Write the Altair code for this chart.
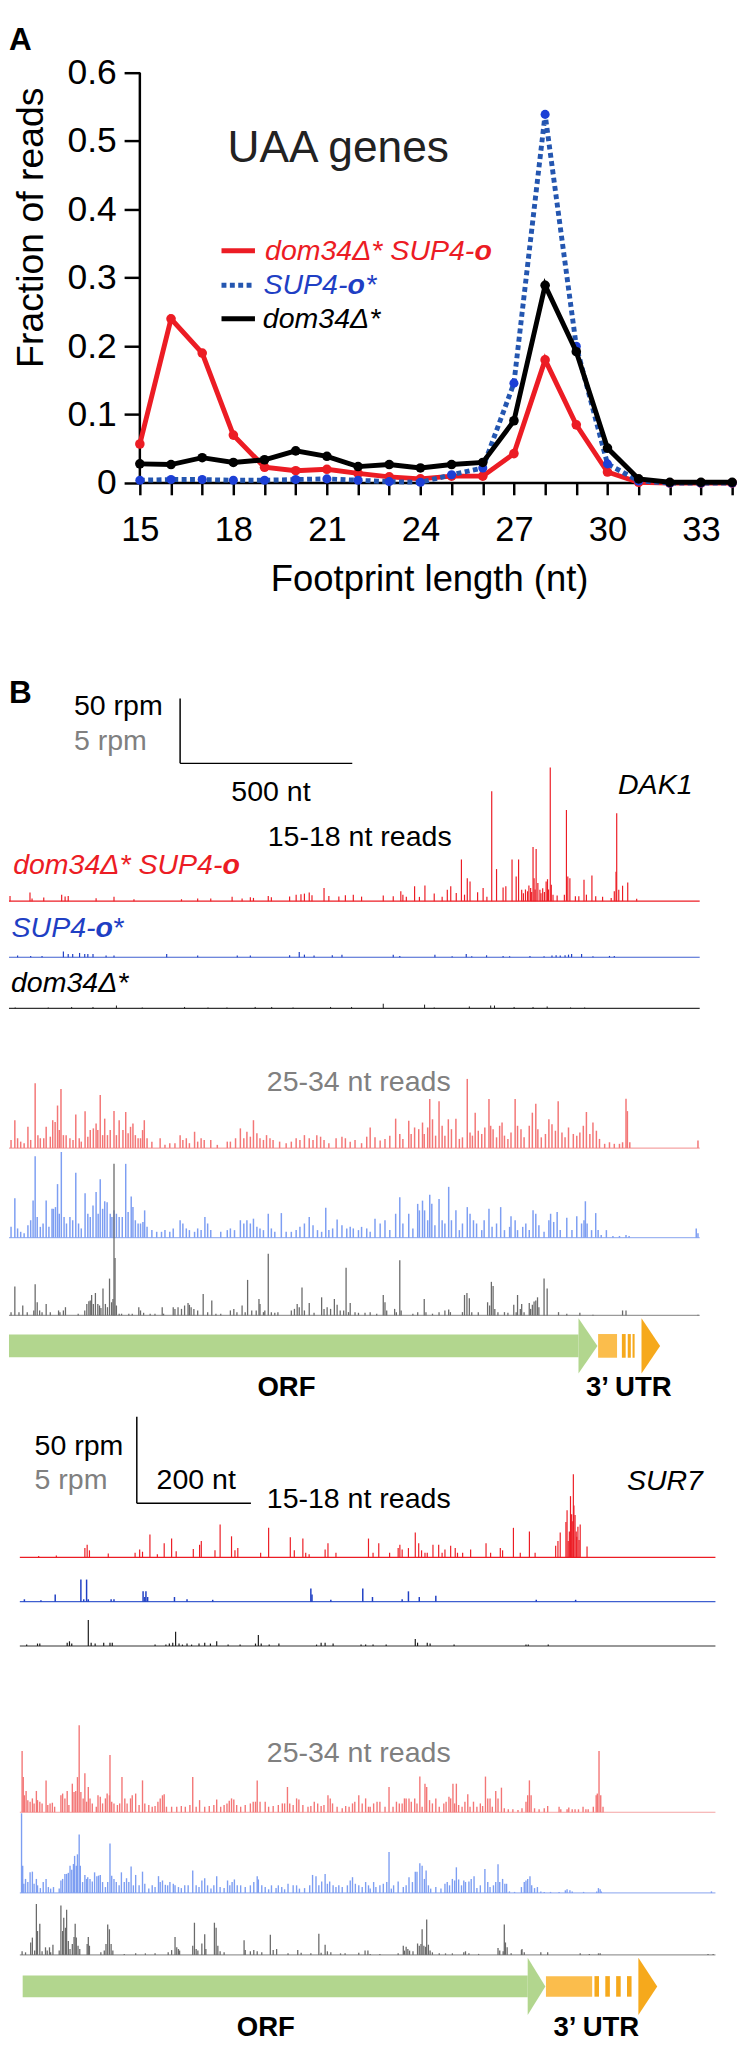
import altair as alt
import pandas as pd

FONT = "Liberation Sans"

# ---------------- Panel A data ----------------
LENGTHS = list(range(15, 35))
FRAC_DOM34_SUP4 = [0.057, 0.240, 0.190, 0.070, 0.023, 0.018, 0.020, 0.014, 0.009, 0.006,
                   0.010, 0.010, 0.043, 0.180, 0.085, 0.016, 0.001, 0.0, 0.0, 0.0]
FRAC_SUP4 = [0.004, 0.005, 0.005, 0.004, 0.004, 0.005, 0.006, 0.004, 0.002, 0.001,
             0.012, 0.022, 0.146, 0.539, 0.200, 0.028, 0.003, 0.0, 0.0, 0.0]
FRAC_DOM34 = [0.028, 0.027, 0.037, 0.030, 0.034, 0.047, 0.039, 0.024, 0.027, 0.022,
              0.027, 0.030, 0.091, 0.289, 0.192, 0.051, 0.006, 0.001, 0.001, 0.001]
Y_TICKS = [0, 0.1, 0.2, 0.3, 0.4, 0.5, 0.6]

# ---------------- Panel B data: (position nt, rpm) ----------------
DAK1_RED_15_18 = [
    (3, 4.0), (61, 6.6), (67, 2.0), (101, 2.8), (153, 5.0), (163, 3.5), (172, 4.0), (253, 2.3), (305, 3.3),
    (363, 1.5), (501, 1.5), (548, 2.0), (586, 2.0), (648, 3.3), (677, 2.0), (701, 3.0), (710, 2.5), (753, 4.0),
    (762, 3.0), (815, 3.5), (834, 5.0), (848, 5.3), (858, 5.8), (872, 6.6), (880, 4.5), (915, 10.1), (929, 4.0),
    (958, 3.5), (977, 4.5), (1000, 5.0), (1024, 3.5), (1087, 4.3), (1116, 3.8), (1138, 7.6), (1144, 5.0),
    (1154, 3.3), (1178, 11.4), (1192, 3.3), (1208, 12.1), (1235, 5.8), (1258, 3.3), (1273, 8.8), (1283, 11.4),
    (1299, 6.3), (1314, 32.1), (1323, 5.0), (1331, 17.7), (1339, 15.2), (1361, 6.8), (1377, 10.1), (1388, 3.3),
    (1402, 84.6), (1416, 24.7), (1435, 10.6), (1443, 11.4), (1461, 32.1), (1473, 18.9), (1480, 32.1),
    (1489, 8.8), (1494, 6.0), (1500, 9.0), (1506, 7.6), (1510, 12.0), (1515, 10.1), (1518, 7.0), (1522, 41.7),
    (1525, 17.7), (1528, 9.0), (1531, 40.1), (1536, 13.9), (1542, 8.8), (1545, 6.0), (1550, 10.0), (1555, 7.0),
    (1560, 15.2), (1564, 16.9), (1567, 9.0), (1572, 103.0), (1575, 12.6), (1580, 5.0), (1592, 4.3), (1613, 5.0),
    (1619, 70.2), (1623, 18.9), (1629, 17.7), (1645, 3.8), (1655, 3.8), (1670, 16.4), (1677, 5.0), (1693, 19.7),
    (1704, 3.8), (1724, 3.3), (1749, 2.5), (1758, 7.6), (1763, 22.7), (1765, 67.7), (1771, 8.8), (1782, 11.9),
    (1797, 14.4), (1823, 1.8)]
DAK1_BLUE_15_18 = [
    (25, 1.3), (63, 1.0), (96, 1.0), (158, 4.5), (172, 2.5), (185, 2.5), (205, 3.3), (220, 2.5), (229, 2.5),
    (244, 2.5), (282, 1.3), (305, 1.3), (458, 2.5), (548, 1.3), (663, 1.3), (701, 1.3), (815, 1.5), (843, 4.0),
    (858, 2.0), (886, 1.3), (939, 1.5), (967, 2.0), (1116, 2.0), (1135, 1.0), (1237, 2.0), (1287, 0.8),
    (1328, 2.5), (1344, 0.8), (1387, 1.5), (1435, 1.0), (1454, 0.8), (1513, 1.0), (1554, 0.8), (1577, 1.3),
    (1589, 1.5), (1601, 1.3), (1615, 1.5), (1625, 2.0), (1634, 2.5), (1663, 2.5), (1696, 0.8), (1744, 1.0),
    (1758, 1.0)]
DAK1_BLACK_15_18 = [
    (18, 0.7), (114, 0.7), (182, 1.1), (244, 1.1), (312, 2.2), (387, 0.7), (510, 1.1), (578, 0.7), (633, 0.7),
    (715, 1.1), (763, 1.1), (825, 0.7), (934, 1.1), (995, 1.1), (1087, 3.6), (1207, 2.9), (1235, 0.7),
    (1337, 1.5), (1399, 2.2), (1410, 2.2), (1467, 1.1), (1522, 1.1), (1563, 1.5), (1631, 0.7), (1672, 0.7)]
DAK1_RED_25_34 = [
    (6, 0.63), (17, 2.15), (25, 0.76), (34, 0.5), (44, 0.38), (55, 1.64), (63, 0.63), (76, 5.0), (84, 1.0),
    (91, 0.76), (101, 0.76), (108, 1.64), (120, 0.88), (127, 2.15), (134, 2.02), (141, 3.28), (146, 1.39),
    (151, 4.55), (158, 1.0), (166, 1.0), (177, 0.76), (186, 0.63), (194, 2.58), (204, 0.76), (210, 0.5),
    (221, 2.83), (229, 0.88), (236, 1.39), (245, 1.52), (253, 1.89), (258, 1.39), (265, 4.09), (272, 1.0),
    (278, 2.27), (286, 1.0), (294, 1.39), (305, 2.85), (312, 1.0), (320, 2.15), (331, 1.39), (339, 2.78),
    (346, 1.14), (353, 1.64), (360, 1.89), (367, 1.0), (375, 0.76), (382, 0.76), (388, 1.39), (393, 2.15),
    (401, 0.76), (415, 0.5), (439, 0.76), (453, 0.25), (467, 0.38), (482, 0.38), (497, 1.0), (505, 0.63),
    (515, 0.76), (524, 0.38), (539, 1.26), (548, 0.5), (558, 0.76), (567, 0.63), (586, 0.63), (605, 0.25),
    (634, 0.5), (643, 0.5), (658, 0.76), (672, 1.52), (682, 0.76), (691, 1.26), (701, 0.88), (710, 2.15),
    (720, 1.14), (729, 0.76), (739, 0.63), (748, 1.0), (758, 0.76), (767, 0.63), (786, 0.5), (805, 0.38),
    (820, 0.5), (834, 0.76), (845, 0.63), (858, 1.0), (872, 0.76), (883, 0.63), (894, 1.0), (905, 0.88),
    (915, 0.63), (929, 0.38), (950, 0.76), (967, 0.88), (977, 0.76), (991, 0.5), (1005, 0.63), (1024, 0.38),
    (1039, 0.88), (1049, 1.59), (1063, 0.83), (1078, 0.58), (1092, 0.71), (1106, 0.96), (1123, 2.27),
    (1135, 1.09), (1144, 0.71), (1161, 2.10), (1168, 1.09), (1178, 1.59), (1190, 1.46), (1201, 1.97),
    (1206, 1.09), (1216, 1.59), (1222, 3.79), (1230, 2.22), (1239, 0.96), (1249, 3.61), (1258, 1.72),
    (1266, 0.96), (1276, 2.22), (1285, 1.46), (1298, 2.27), (1308, 0.71), (1317, 0.83), (1331, 5.33),
    (1339, 1.21), (1346, 0.96), (1354, 2.73), (1363, 1.34), (1373, 1.09), (1382, 1.59), (1394, 3.79),
    (1399, 1.72), (1406, 1.46), (1416, 0.83), (1425, 1.72), (1432, 1.97), (1439, 0.96), (1449, 0.71),
    (1458, 1.21), (1470, 3.79), (1477, 1.72), (1487, 1.46), (1496, 0.83), (1511, 1.72), (1520, 2.73),
    (1530, 3.41), (1536, 1.46), (1546, 0.83), (1558, 1.09), (1568, 2.22), (1577, 1.84), (1587, 1.34),
    (1595, 3.61), (1606, 1.21), (1615, 0.83), (1625, 1.59), (1639, 1.09), (1649, 0.96), (1658, 1.21),
    (1668, 1.72), (1677, 2.78), (1687, 1.09), (1696, 1.97), (1706, 1.34), (1715, 0.71), (1730, 0.33),
    (1744, 0.45), (1758, 0.33), (1773, 0.33), (1782, 0.45), (1792, 3.81), (1796, 2.85), (1803, 0.45),
    (2001, 0.58)]
DAK1_BLUE_25_34 = [
    (6, 0.83), (17, 3.03), (25, 0.71), (34, 0.45), (44, 0.33), (55, 0.96), (63, 1.34), (70, 2.85), (76, 6.26),
    (82, 1.59), (91, 0.83), (99, 1.09), (108, 2.85), (116, 0.83), (125, 2.22), (129, 2.22), (135, 2.35),
    (141, 4.12), (146, 1.84), (152, 6.59), (160, 1.59), (167, 1.09), (177, 1.59), (185, 1.34), (194, 5.0),
    (202, 1.09), (210, 0.71), (221, 3.41), (229, 1.84), (236, 1.59), (244, 2.47), (253, 3.51), (259, 1.84),
    (265, 4.49), (272, 2.22), (278, 2.80), (285, 2.73), (294, 1.84), (299, 1.59), (305, 2.10), (312, 1.84),
    (320, 1.59), (329, 1.59), (339, 5.68), (346, 1.97), (355, 3.16), (360, 2.35), (367, 1.34), (375, 1.09),
    (382, 1.09), (389, 1.21), (394, 2.10), (401, 0.83), (415, 0.58), (429, 0.45), (443, 0.45), (453, 0.58),
    (467, 0.45), (477, 0.71), (497, 1.34), (505, 1.09), (515, 0.71), (524, 0.58), (539, 0.45), (548, 0.71),
    (558, 0.58), (569, 1.59), (577, 1.09), (586, 0.58), (615, 0.45), (634, 0.58), (643, 0.71), (655, 0.58),
    (672, 1.34), (682, 1.09), (691, 1.34), (701, 1.09), (710, 1.46), (720, 0.83), (729, 0.71), (739, 0.58),
    (753, 1.84), (762, 0.71), (772, 0.45), (791, 1.89), (805, 0.45), (820, 0.45), (834, 0.58), (845, 0.83),
    (858, 1.09), (872, 1.59), (883, 0.96), (896, 0.58), (908, 0.45), (920, 2.30), (929, 0.58), (940, 0.71),
    (953, 1.39), (967, 0.96), (981, 0.71), (991, 0.83), (1000, 0.71), (1015, 0.58), (1024, 0.83), (1039, 0.71),
    (1049, 0.45), (1063, 1.46), (1078, 1.09), (1092, 1.34), (1106, 0.58), (1123, 1.84), (1135, 3.11),
    (1144, 1.09), (1161, 1.84), (1173, 0.71), (1187, 2.60), (1192, 2.10), (1201, 2.85), (1207, 2.10),
    (1216, 1.34), (1222, 3.31), (1228, 2.60), (1237, 0.96), (1249, 2.98), (1258, 1.34), (1266, 1.09),
    (1277, 3.91), (1285, 1.34), (1298, 2.10), (1308, 0.58), (1317, 1.09), (1331, 2.35), (1339, 1.84),
    (1349, 1.34), (1358, 1.09), (1373, 0.58), (1380, 1.34), (1394, 2.22), (1403, 0.83), (1416, 1.09),
    (1428, 2.35), (1439, 0.58), (1454, 0.83), (1458, 1.64), (1470, 1.34), (1477, 0.58), (1492, 0.83),
    (1501, 1.09), (1511, 0.58), (1522, 2.10), (1530, 1.84), (1539, 0.96), (1554, 0.45), (1568, 1.34),
    (1573, 1.84), (1582, 1.21), (1592, 1.97), (1601, 0.58), (1620, 1.54), (1635, 0.58), (1649, 1.64),
    (1663, 1.09), (1670, 1.34), (1674, 2.80), (1679, 1.09), (1692, 0.58), (1704, 1.89), (1711, 0.58),
    (1720, 0.2), (1735, 0.58), (1754, 0.13), (1773, 0.13), (1792, 0.2), (1801, 0.13), (1996, 0.71), (2001, 0.33)]
DAK1_BLACK_25_34 = [
    (6, 0.25), (17, 2.22), (29, 0.25), (40, 0.76), (53, 0.25), (72, 0.38), (76, 2.4), (82, 1.01), (89, 0.38),
    (96, 0.25), (108, 0.88), (120, 0.25), (144, 0.38), (148, 0.25), (158, 0.38), (164, 0.63), (201, 0.13),
    (220, 0.38), (226, 0.88), (232, 1.09), (236, 1.14), (240, 1.57), (245, 0.88), (251, 1.72), (258, 0.88),
    (263, 0.76), (267, 0.56), (273, 2.07), (280, 0.88), (286, 0.63), (292, 2.83), (298, 1.01), (302, 1.26),
    (305, 11.67), (308, 4.42), (312, 0.76), (320, 0.13), (327, 0.13), (348, 0.13), (358, 0.13), (377, 0.63),
    (382, 0.38), (391, 0.2), (410, 0.13), (424, 0.13), (445, 0.63), (449, 0.13), (477, 0.63), (482, 0.5),
    (491, 0.63), (501, 0.5), (510, 0.76), (520, 0.96), (524, 0.81), (529, 0.63), (537, 0.5), (548, 0.38),
    (564, 1.64), (577, 0.25), (589, 1.14), (601, 0.13), (615, 0.13), (643, 0.38), (653, 0.5), (662, 0.25),
    (677, 0.76), (686, 0.25), (693, 2.73), (705, 0.38), (718, 0.38), (726, 1.26), (729, 0.88), (739, 0.25),
    (743, 0.38), (753, 4.75), (762, 0.25), (772, 0.2), (781, 0.25), (820, 0.38), (829, 0.5), (837, 0.88),
    (843, 0.63), (851, 2.15), (858, 0.38), (872, 0.96), (886, 0.2), (908, 1.39), (915, 0.5), (924, 0.63),
    (934, 0.5), (945, 1.26), (953, 0.81), (962, 0.38), (972, 0.38), (979, 3.66), (986, 0.25), (991, 0.96),
    (1005, 0.25), (1015, 0.2), (1034, 0.2), (1049, 0.25), (1068, 0.13), (1087, 1.57), (1092, 1.01),
    (1097, 0.38), (1120, 0.5), (1125, 0.25), (1135, 4.24), (1139, 0.38), (1173, 0.13), (1187, 0.25),
    (1206, 1.26), (1211, 0.25), (1230, 0.13), (1249, 0.25), (1266, 0.38), (1277, 0.45), (1282, 0.25),
    (1317, 0.25), (1323, 1.57), (1330, 1.72), (1337, 1.31), (1344, 0.25), (1363, 0.25), (1390, 1.01),
    (1396, 0.76), (1401, 2.58), (1406, 2.27), (1411, 0.5), (1420, 0.25), (1439, 0.25), (1449, 0.2),
    (1466, 0.81), (1473, 0.25), (1477, 1.57), (1485, 0.5), (1489, 0.88), (1496, 0.25), (1511, 0.96),
    (1515, 0.5), (1520, 0.81), (1525, 1.06), (1530, 1.14), (1535, 1.39), (1539, 0.63), (1554, 2.83),
    (1563, 2.07), (1596, 0.25), (1620, 0.13), (1658, 0.2), (1696, 0.05), (1782, 0.38), (1792, 0.38), (2001, 0.05)]

SUR7_RED_15_18 = [
    (33, 0.8), (64, 1.1), (114, 5.4), (118, 7.3), (122, 4.1), (155, 2.2), (202, 2.7), (210, 4.6), (215, 3.3),
    (228, 13.3), (241, 1.9), (253, 8.2), (266, 10.9), (274, 3.5), (304, 4.9), (315, 7.3), (318, 9.5), (342, 4.1),
    (351, 19.0), (371, 12.2), (377, 4.1), (382, 5.4), (422, 2.7), (436, 17.1), (474, 11.7), (481, 4.1),
    (496, 10.9), (501, 2.7), (507, 1.9), (535, 4.6), (540, 8.2), (554, 2.7), (611, 10.9), (619, 2.7), (629, 8.2),
    (648, 2.7), (663, 5.4), (666, 7.3), (670, 4.6), (681, 5.4), (693, 14.4), (699, 8.2), (704, 4.1), (710, 2.7),
    (714, 2.7), (724, 7.3), (734, 7.3), (740, 2.7), (745, 4.6), (755, 6.8), (763, 5.4), (767, 2.7), (776, 2.7),
    (790, 4.6), (817, 8.2), (825, 2.7), (842, 5.4), (846, 4.1), (865, 17.1), (877, 2.7), (893, 15.0),
    (903, 2.7), (939, 6.8), (943, 9.5), (947, 14.4), (957, 20.4), (959, 27.2), (961, 9.5), (963, 15.0),
    (965, 35.4), (967, 25.0), (969, 20.9), (970, 48.1), (971, 30.0), (973, 24.5), (975, 15.0), (976, 12.0),
    (978, 17.7), (980, 10.0), (982, 19.0), (994, 6.3)]
SUR7_BLUE_15_18 = [
    (8, 1.4), (37, 0.8), (62, 4.1), (107, 12.8), (112, 1.4), (117, 12.8), (120, 1.4), (160, 1.4), (165, 1.4),
    (216, 6.0), (219, 2.7), (221, 6.0), (224, 2.7), (271, 2.7), (293, 1.4), (338, 1.1), (510, 7.6), (512, 4.1),
    (545, 1.1), (601, 7.6), (618, 2.7), (670, 1.4), (681, 6.0), (700, 2.7), (729, 3.5), (905, 1.1), (974, 1.1)]
SUR7_BLACK_15_18 = [
    (12, 0.8), (31, 1.4), (35, 1.4), (83, 1.9), (87, 2.7), (91, 1.4), (120, 15.0), (125, 1.9), (132, 1.4),
    (147, 1.9), (158, 1.9), (162, 1.9), (237, 0.8), (256, 0.8), (262, 1.4), (268, 1.9), (273, 8.2), (279, 1.4),
    (285, 0.8), (293, 1.4), (301, 0.8), (314, 1.4), (324, 1.9), (334, 1.4), (345, 2.7), (365, 0.8), (386, 0.8),
    (413, 1.4), (418, 6.3), (423, 1.4), (437, 0.8), (454, 1.4), (520, 0.8), (528, 1.9), (535, 1.9), (549, 1.4),
    (598, 0.8), (606, 0.8), (619, 0.8), (642, 0.8), (693, 4.1), (697, 1.9), (714, 1.9), (719, 1.4), (761, 0.8),
    (887, 0.8), (891, 0.8), (926, 0.8)]
SUR7_RED_25_34 = [
    (4, 3.54), (6, 2.03), (8, 0.98), (11, 1.23), (14, 0.70), (18, 0.61), (22, 0.80), (25, 0.51), (29, 1.23),
    (31, 0.70), (35, 0.61), (39, 0.51), (46, 1.84), (49, 0.42), (53, 0.51), (57, 0.55), (61, 0.32), (72, 0.98),
    (75, 1.08), (79, 0.80), (83, 1.23), (86, 0.42), (92, 1.65), (95, 1.17), (98, 1.23), (101, 2.03), (104, 5.02),
    (107, 1.17), (111, 0.80), (114, 2.25), (117, 0.61), (120, 1.46), (123, 0.80), (127, 0.51), (134, 0.32),
    (137, 0.98), (141, 0.89), (145, 0.51), (150, 0.80), (153, 1.08), (157, 0.98), (158, 3.31), (161, 0.61),
    (165, 0.51), (171, 0.42), (175, 0.51), (179, 2.03), (184, 0.80), (188, 0.51), (194, 0.80), (197, 0.98),
    (203, 1.08), (209, 0.42), (215, 1.84), (219, 0.51), (226, 0.42), (232, 0.32), (237, 0.36), (242, 0.61),
    (246, 0.80), (250, 0.98), (253, 1.04), (257, 0.32), (266, 0.32), (275, 0.32), (283, 0.36), (290, 0.32),
    (298, 0.42), (303, 2.03), (309, 0.32), (315, 0.70), (324, 0.32), (332, 0.36), (340, 0.42), (345, 0.74),
    (352, 0.32), (358, 0.42), (363, 0.51), (367, 0.66), (371, 0.80), (375, 0.74), (380, 0.42), (387, 0.32),
    (395, 0.42), (404, 0.51), (409, 0.61), (413, 0.61), (416, 1.84), (421, 0.61), (430, 0.61), (436, 0.32),
    (444, 0.36), (453, 0.42), (460, 0.51), (464, 0.51), (469, 1.46), (473, 0.51), (479, 0.42), (485, 0.80),
    (489, 0.74), (496, 0.42), (505, 0.32), (510, 0.36), (516, 0.61), (522, 0.51), (528, 0.36), (533, 0.42),
    (540, 0.98), (544, 0.80), (548, 0.51), (556, 0.32), (565, 0.23), (571, 0.36), (577, 0.32), (583, 0.51),
    (587, 0.61), (594, 0.98), (600, 0.51), (606, 0.80), (611, 0.32), (614, 0.32), (620, 0.51), (626, 0.61),
    (631, 0.61), (640, 0.32), (647, 1.46), (654, 0.32), (660, 0.61), (665, 0.51), (670, 0.51), (674, 0.80),
    (677, 0.80), (682, 0.80), (686, 0.61), (692, 0.80), (696, 0.51), (701, 2.06), (705, 0.32), (710, 1.65),
    (713, 1.46), (718, 0.70), (723, 0.51), (729, 0.80), (735, 0.32), (743, 0.51), (747, 0.61), (752, 0.89),
    (755, 0.80), (759, 1.65), (762, 0.51), (765, 1.65), (769, 0.42), (775, 0.32), (780, 0.61), (785, 1.04),
    (789, 0.32), (795, 0.61), (801, 0.32), (807, 0.51), (811, 0.36), (816, 2.06), (820, 0.80), (824, 0.80),
    (828, 0.32), (834, 1.23), (838, 0.80), (844, 1.42), (849, 0.23), (856, 0.17), (864, 0.17), (873, 0.13),
    (880, 0.23), (887, 0.61), (890, 0.98), (893, 1.84), (896, 0.98), (902, 0.23), (910, 0.17), (919, 0.23),
    (925, 0.36), (945, 0.32), (948, 0.17), (959, 0.17), (962, 0.28), (968, 0.17), (973, 0.17), (979, 0.17),
    (987, 0.32), (992, 0.17), (996, 0.17), (1005, 0.32), (1010, 0.98), (1012, 1.08), (1015, 3.54),
    (1018, 0.98), (1022, 0.32)]
SUR7_BLUE_25_34 = [
    (3, 4.6), (5, 1.57), (7, 0.53), (10, 0.81), (14, 0.63), (18, 1.19), (22, 1.23), (25, 0.53), (29, 0.81),
    (31, 0.44), (36, 0.28), (41, 0.63), (46, 0.81), (50, 0.34), (54, 0.25), (59, 0.34), (69, 0.25), (72, 0.72),
    (75, 0.81), (79, 1.10), (82, 1.10), (85, 1.16), (88, 1.57), (91, 1.34), (94, 1.67), (96, 2.14), (99, 1.57),
    (101, 2.23), (104, 3.37), (106, 1.57), (110, 0.63), (114, 1.04), (117, 0.81), (119, 0.91), (123, 0.81),
    (127, 0.66), (131, 1.19), (135, 0.97), (138, 1.0), (141, 1.04), (145, 0.63), (150, 0.34), (154, 0.63),
    (158, 2.86), (161, 1.0), (165, 0.81), (169, 0.63), (174, 0.44), (178, 1.19), (183, 0.63), (187, 0.85),
    (191, 0.63), (195, 1.53), (199, 0.44), (203, 1.04), (209, 0.44), (215, 1.23), (219, 0.53), (226, 0.25),
    (232, 0.44), (237, 0.34), (243, 0.97), (246, 0.63), (250, 0.72), (255, 0.47), (259, 0.44), (263, 0.63),
    (269, 0.53), (272, 0.44), (278, 0.34), (283, 0.28), (289, 0.44), (295, 0.44), (303, 1.29), (309, 0.44),
    (314, 0.34), (319, 0.72), (324, 0.85), (329, 0.44), (335, 0.25), (340, 0.44), (345, 0.97), (351, 0.34),
    (358, 0.28), (364, 0.72), (368, 0.44), (372, 0.63), (376, 0.78), (381, 0.44), (387, 0.44), (395, 0.34),
    (404, 0.44), (410, 0.63), (416, 0.97), (418, 0.78), (424, 0.44), (430, 0.34), (436, 0.21), (441, 0.44),
    (449, 0.28), (453, 0.44), (459, 0.34), (464, 0.21), (470, 0.53), (479, 0.44), (485, 0.44), (490, 0.25),
    (499, 0.28), (508, 0.44), (513, 1.04), (519, 0.97), (524, 0.44), (529, 0.66), (535, 1.10), (539, 0.53),
    (543, 0.66), (549, 0.44), (554, 0.34), (559, 0.44), (565, 0.34), (574, 0.44), (579, 0.72), (583, 0.91),
    (588, 0.53), (594, 0.44), (600, 0.34), (606, 0.63), (611, 0.44), (614, 0.25), (620, 0.63), (624, 0.34),
    (631, 0.44), (637, 0.53), (643, 0.63), (647, 2.37), (651, 0.25), (655, 0.44), (663, 0.66), (672, 0.34),
    (677, 0.44), (682, 0.91), (688, 0.63), (693, 1.23), (696, 1.23), (701, 1.72), (705, 1.57), (709, 0.81),
    (712, 1.29), (716, 0.44), (720, 0.25), (729, 0.34), (738, 0.25), (745, 0.53), (749, 0.63), (753, 0.44),
    (758, 0.81), (762, 0.72), (765, 1.48), (769, 0.78), (774, 0.44), (778, 0.72), (781, 0.63), (787, 0.66),
    (791, 0.81), (796, 0.97), (801, 0.28), (807, 0.44), (815, 1.38), (820, 0.63), (824, 0.34), (830, 0.44),
    (834, 0.63), (838, 1.65), (841, 0.63), (846, 0.81), (850, 0.53), (853, 0.53), (858, 0.09), (867, 0.06),
    (879, 0.34), (884, 0.63), (887, 0.72), (890, 0.81), (894, 0.97), (897, 0.44), (902, 0.28), (907, 0.34),
    (913, 0.09), (919, 0.06), (930, 0.06), (945, 0.06), (956, 0.15), (959, 0.21), (964, 0.15), (968, 0.09),
    (988, 0.06), (1011, 0.09), (1014, 0.28), (1017, 0.21), (1019, 0.09), (1212, 0.09)]
SUR7_BLACK_25_34 = [
    (4, 0.21), (10, 0.15), (19, 0.72), (22, 1.0), (26, 0.25), (29, 2.94), (31, 1.38), (35, 1.80), (39, 0.21),
    (45, 0.44), (48, 0.25), (52, 0.44), (54, 0.15), (58, 0.59), (69, 0.25), (72, 2.86), (75, 1.38), (77, 2.14),
    (80, 1.57), (82, 2.61), (85, 0.81), (88, 0.34), (92, 0.63), (95, 1.04), (97, 1.80), (99, 1.0), (102, 0.53),
    (105, 0.34), (118, 0.63), (120, 1.04), (122, 0.53), (142, 0.15), (148, 0.25), (151, 0.63), (154, 1.76),
    (157, 1.48), (160, 0.63), (163, 0.25), (183, 0.06), (203, 0.09), (220, 0.09), (237, 0.09), (260, 0.15),
    (266, 0.28), (272, 1.04), (275, 0.44), (278, 0.34), (280, 0.25), (303, 0.53), (306, 1.86), (309, 0.34),
    (312, 0.25), (319, 0.66), (324, 1.19), (326, 0.34), (341, 1.86), (344, 1.57), (347, 0.53), (351, 0.21),
    (358, 0.15), (393, 0.85), (395, 0.28), (404, 0.21), (410, 0.28), (416, 0.21), (424, 0.15), (439, 1.16),
    (444, 0.28), (450, 0.34), (470, 0.09), (487, 0.28), (493, 0.13), (510, 0.09), (524, 1.23), (528, 0.13),
    (535, 0.59), (539, 0.21), (545, 0.15), (562, 0.09), (570, 0.09), (594, 0.13), (605, 0.25), (610, 0.25),
    (614, 0.06), (631, 0.06), (663, 0.09), (672, 0.53), (674, 0.25), (677, 0.47), (680, 0.34), (683, 0.25),
    (689, 0.21), (697, 0.66), (700, 0.53), (703, 0.63), (705, 1.48), (708, 0.53), (711, 0.47), (713, 2.05),
    (716, 0.59), (719, 0.25), (723, 0.15), (735, 0.09), (746, 0.09), (758, 0.09), (778, 0.15), (781, 0.21),
    (787, 0.09), (804, 0.06), (838, 0.40), (841, 0.25), (847, 0.21), (849, 1.76), (851, 0.72), (854, 0.44),
    (861, 0.09), (879, 0.28), (880, 0.34), (884, 0.15), (913, 0.15), (925, 0.15), (982, 0.09), (998, 0.06),
    (1014, 0.09), (1017, 0.09), (1206, 0.06), (1215, 0.06)]

# gene models (nt): ORF body start / head start / arrow tip, 3'UTR box, stripes, UTR arrow head
DAK1_ORF = (0, 1654, 1709)
DAK1_UTR_BOX = (1711, 1766)
DAK1_UTR_STRIPES = [(1780, 1791), (1797, 1806), (1811, 1817)]
DAK1_UTR_HEAD = (1837, 1891)
SUR7_ORF = (5, 890, 921)
SUR7_UTR_BOX = (922, 1003)
SUR7_UTR_STRIPES = [(1007, 1015), (1026, 1034), (1045, 1053), (1064, 1072)]
SUR7_UTR_HEAD = (1084, 1117)

RED, RED_L = "#ec1c24", "#f37676"
BLUE, BLUE_L = "#1f3fc4", "#7d9ef2"
BLACK, GRAY_L = "#1a1a1a", "#6a6a6a"
GREEN, ORANGE_L, ORANGE = "#b2d68e", "#fbbd4c", "#f6a91c"
GRAYTXT = "#808080"


def label(txt, x, y, size=29, color="black", style="normal", weight="normal", align="left"):
    return alt.Chart(pd.DataFrame({"t": [txt]})).mark_text(
        font=FONT, fontSize=size, color=color, fontStyle=style, fontWeight=weight,
        align=align, baseline="alphabetic").encode(text="t:N", x=alt.value(x), y=alt.value(y))


def track(points, color, base_color, width, height, xdom, ymax, base_range, sw=1.0, extras=None):
    xs = alt.Scale(domain=xdom, nice=False, zero=False)
    ys = alt.Scale(domain=[0, ymax], nice=False, zero=False)
    df = pd.DataFrame(points, columns=["pos", "rpm"])
    df["zero"] = 0.0
    bdf = pd.DataFrame({"pos": [base_range[0]], "pos2": [base_range[1]], "rpm": [0.0]})
    baseline = alt.Chart(bdf).mark_rule(color=base_color, strokeWidth=1.2).encode(
        x=alt.X("pos:Q", scale=xs, axis=None), x2="pos2:Q", y=alt.Y("rpm:Q", scale=ys, axis=None))
    spikes = alt.Chart(df).mark_rule(color=color, strokeWidth=sw).encode(
        x=alt.X("pos:Q", scale=xs, axis=None), y=alt.Y("rpm:Q", scale=ys, axis=None), y2="zero:Q")
    layers = [baseline, spikes]
    if extras:
        layers += extras(xs, ys)
    return alt.layer(*layers).properties(width=width, height=height)


def scalebar(x0, nt_len, y0, rpm_len):
    def make(xs, ys):
        v = pd.DataFrame({"pos": [x0], "rpm": [y0], "rpm2": [y0 + rpm_len]})
        h = pd.DataFrame({"pos": [x0], "pos2": [x0 + nt_len], "rpm": [y0]})
        return [
            alt.Chart(v).mark_rule(color="black", strokeWidth=1.5).encode(
                x=alt.X("pos:Q", scale=xs, axis=None), y=alt.Y("rpm:Q", scale=ys, axis=None), y2="rpm2:Q"),
            alt.Chart(h).mark_rule(color="black", strokeWidth=1.5).encode(
                x=alt.X("pos:Q", scale=xs, axis=None), x2="pos2:Q", y=alt.Y("rpm:Q", scale=ys, axis=None)),
        ]
    return make


def gene(width, height, xdom, ydom, orf, box, stripes, head, body_half, box_half, orf_x, utr_x, text_y):
    xs = alt.Scale(domain=xdom, nice=False, zero=False)
    ys = alt.Scale(domain=ydom, nice=False, zero=False)

    def rect(df, color):
        return alt.Chart(df).mark_rect(color=color).encode(
            x=alt.X("x0:Q", scale=xs, axis=None), x2="x1:Q",
            y=alt.Y("y0:Q", scale=ys, axis=None), y2="y1:Q")

    def tri(start, tip, color):
        df = pd.DataFrame({"x": [start, tip], "lo": [-1.0, 0.0], "hi": [1.0, 0.0]})
        return alt.Chart(df).mark_area(color=color, opacity=1).encode(
            x=alt.X("x:Q", scale=xs, axis=None), y=alt.Y("lo:Q", scale=ys, axis=None), y2="hi:Q")

    body = rect(pd.DataFrame({"x0": [orf[0]], "x1": [orf[1]], "y0": [-body_half], "y1": [body_half]}), GREEN)
    ubox = rect(pd.DataFrame({"x0": [box[0]], "x1": [box[1]], "y0": [-box_half], "y1": [box_half]}), ORANGE_L)
    strp = rect(pd.DataFrame({"x0": [s[0] for s in stripes], "x1": [s[1] for s in stripes],
                              "y0": [-box_half] * len(stripes), "y1": [box_half] * len(stripes)}), ORANGE)
    layers = [body, tri(orf[1], orf[2], GREEN), ubox, strp, tri(head[0], head[1], ORANGE),
              label("ORF", orf_x, text_y, size=28, weight="bold", align="center"),
              label("3\u2019 UTR", utr_x, text_y, size=28, weight="bold", align="center")]
    return alt.layer(*layers).properties(width=width, height=height)


# ---------------- Panel A ----------------
W_A, H_A = 735, 466
xA = alt.Scale(domain=[10.802, 34], nice=False, zero=False)
yA = alt.Scale(domain=[0, 0.6705], nice=False, zero=False)
x_axis = alt.Axis(values=LENGTHS, labelExpr="(datum.value - 15) % 3 == 0 ? datum.value : ''",
                  domain=False, grid=False, tickSize=12, tickWidth=2.5, tickColor="black",
                  labelFontSize=35, labelFont=FONT, labelColor="black", labelBaseline="alphabetic",
                  labelPadding=46, labelAngle=0, labelFlush=False, labelOverlap=False,
                  title="Footprint length (nt)", titleFontSize=37, titleFont=FONT, titleFontWeight="normal",
                  titleColor="black", titleX=427, titleY=109, titleBaseline="alphabetic", titleAlign="center")
y_axis = alt.Axis(values=Y_TICKS, labelExpr="datum.value == 0 ? '0' : format(datum.value, '.1f')",
                  domain=False, grid=False, tickSize=16, tickWidth=2.5, tickColor="black",
                  labelFontSize=36, labelFont=FONT, labelColor="black", labelPadding=8, offset=-133,
                  labelFlush=False, labelOverlap=False,
                  title="Fraction of reads", titleFontSize=38, titleFont=FONT, titleFontWeight="normal",
                  titleColor="black", titleX=-99, titleY=206, titleAngle=270, titleBaseline="alphabetic",
                  titleAlign="center")


def series(vals):
    return pd.DataFrame({"len": LENGTHS, "frac": vals})


def enc(ch):
    return ch.encode(x=alt.X("len:Q", scale=xA, axis=x_axis), y=alt.Y("frac:Q", scale=yA, axis=y_axis))


a_layers = [
    alt.Chart(pd.DataFrame({"len": [15], "frac": [0.0], "frac2": [0.6]})).mark_rule(
        color="black", strokeWidth=2.5).encode(
        x=alt.X("len:Q", scale=xA, axis=x_axis), y=alt.Y("frac:Q", scale=yA, axis=y_axis), y2="frac2:Q"),
    alt.Chart(pd.DataFrame({"len": [15], "len2": [34], "frac": [0.0]})).mark_rule(
        color="black", strokeWidth=2.5).encode(
        x=alt.X("len:Q", scale=xA, axis=x_axis), x2="len2:Q", y=alt.Y("frac:Q", scale=yA, axis=y_axis)),
    enc(alt.Chart(series(FRAC_DOM34_SUP4)).mark_line(color=RED, strokeWidth=5)),
    enc(alt.Chart(series(FRAC_DOM34_SUP4)).mark_circle(color=RED, size=95, opacity=1)),
    enc(alt.Chart(series(FRAC_SUP4)).mark_line(color="#2456b0", strokeWidth=5, strokeDash=[5, 3.5])),
    enc(alt.Chart(series(FRAC_SUP4)).mark_circle(color="#1c3fd6", size=85, opacity=1)),
    enc(alt.Chart(series(FRAC_DOM34)).mark_line(color="black", strokeWidth=5)),
    enc(alt.Chart(series(FRAC_DOM34)).mark_circle(color="black", size=95, opacity=1)),
    label("A", 0, 26, size=32, weight="bold"),
    label("UAA genes", 222, 140, size=45, color="#222222"),
    alt.Chart(pd.DataFrame({"k": [0]})).mark_rule(color=RED, strokeWidth=5).encode(
        x=alt.value(216), x2=alt.value(250), y=alt.value(230)),
    alt.Chart(pd.DataFrame({"k": [0]})).mark_rule(color="#2456b0", strokeWidth=5, strokeDash=[5, 3.5]).encode(
        x=alt.value(216), x2=alt.value(250), y=alt.value(265)),
    alt.Chart(pd.DataFrame({"k": [0]})).mark_rule(color="black", strokeWidth=5).encode(
        x=alt.value(216), x2=alt.value(250), y=alt.value(299)),
    label("dom34\u0394* SUP4-", 473, 239, color=RED, style="italic", align="right"),
    label("o", 473, 239, color=RED, style="italic", weight="bold"),
    label("SUP4-", 344, 274, color=BLUE, style="italic", align="right"),
    label("o", 344, 274, color=BLUE, style="italic", weight="bold"),
    label("*", 362, 274, color=BLUE, style="italic"),
    label("dom34\u0394*", 258, 308, color="black", style="italic"),
]
panel_a = alt.layer(*a_layers).properties(width=W_A, height=H_A)

# ---------------- Panel B: DAK1 ----------------
WD, DOMD, BD = 702, [0, 2006], (0, 2006)


def dak_red1_extras(xs, ys):
    return scalebar(497, 500, 106.1, 50)(xs, ys) + [
        label("B", 0, 224, size=32, weight="bold"),
        label("50 rpm", 66, 236),
        label("5 rpm", 66, 271, color=GRAYTXT),
        label("500 nt", 226, 323),
        label("DAK1", 619, 316, style="italic"),
        label("15-18 nt reads", 263, 369),
        label("dom34\u0394* SUP4-", 217, 397, color=RED, style="italic", align="right"),
        label("o", 217, 397, color=RED, style="italic", weight="bold"),
    ]


rows = [panel_a,
        track(DAK1_RED_15_18, RED, RED, WD, 425, DOMD, 322.0, BD, sw=1.2, extras=dak_red1_extras),
        track(DAK1_BLUE_15_18, BLUE, "#3f5fd0", WD, 57, DOMD, 43.2, BD, sw=1.2, extras=lambda xs, ys: [
            label("SUP4-", 88, 36, color=BLUE, style="italic", align="right"),
            label("o", 88, 36, color=BLUE, style="italic", weight="bold"),
            label("*", 105, 36, color=BLUE, style="italic")]),
        track(DAK1_BLACK_15_18, BLACK, "#333333", WD, 52, DOMD, 39.4, BD, extras=lambda xs, ys: [
            label("dom34\u0394*", 2, 35, style="italic")]),
        track(DAK1_RED_25_34, RED_L, "#f5a3a3", WD, 142, DOMD, 10.76, BD, sw=1.5, extras=lambda xs, ys: [
            label("25-34 nt reads", 262, 84, color=GRAYTXT)]),
        track(DAK1_BLUE_25_34, BLUE_L, "#9fb6f2", WD, 91, DOMD, 6.89, BD, sw=1.5),
        track(DAK1_BLACK_25_34, GRAY_L, "#9a9a9a", WD, 79, DOMD, 5.98, BD, sw=1.3),
        gene(WD, 98, DOMD, [-2.393, 1.107], DAK1_ORF, DAK1_UTR_BOX, DAK1_UTR_STRIPES, DAK1_UTR_HEAD,
             0.41, 0.43, 282, 630, 82)]

# ---------------- Panel B: SUR7 ----------------
WS, DOMS, BS = 718, [-19, 1219], (0, 1219)


def sur_red1_extras(xs, ys):
    return scalebar(205, 200, 31.25, 50)(xs, ys) + [
        label("50 rpm", 26, 44),
        label("5 rpm", 26, 78, color=GRAYTXT),
        label("200 nt", 150, 78),
        label("SUR7", 628, 79, style="italic"),
        label("15-18 nt reads", 262, 98),
    ]


rows += [
    track(SUR7_RED_15_18, RED, RED, WS, 148, DOMS, 84.1, BS, sw=1.2, extras=sur_red1_extras),
    track(SUR7_BLUE_15_18, BLUE, "#3f5fd0", WS, 45, DOMS, 25.6, BS, sw=1.5),
    track(SUR7_BLACK_15_18, BLACK, "#333333", WS, 45, DOMS, 25.6, BS, sw=1.2),
    track(SUR7_RED_25_34, RED_L, "#f5a3a3", WS, 169, DOMS, 9.6, BS, sw=1.4, extras=lambda xs, ys: [
        label("25-34 nt reads", 262, 118, color=GRAYTXT)]),
    track(SUR7_BLUE_25_34, BLUE_L, "#9fb6f2", WS, 82, DOMS, 4.66, BS, sw=1.4),
    track(SUR7_BLACK_25_34, GRAY_L, "#9a9a9a", WS, 63, DOMS, 3.58, BS, sw=1.3),
    gene(WS, 84, DOMS, [-1.793, 1.103], SUR7_ORF, SUR7_UTR_BOX, SUR7_UTR_STRIPES, SUR7_UTR_HEAD,
         0.38, 0.36, 261, 597, 82),
]

chart = alt.VConcatChart(vconcat=rows, spacing=0, bounds="flush", padding=0,
                         background="white").resolve_scale(
    x="independent", y="independent").configure_view(stroke=None, strokeWidth=0)

chart.save("out.html", embed_options={"renderer": "svg", "actions": False})
